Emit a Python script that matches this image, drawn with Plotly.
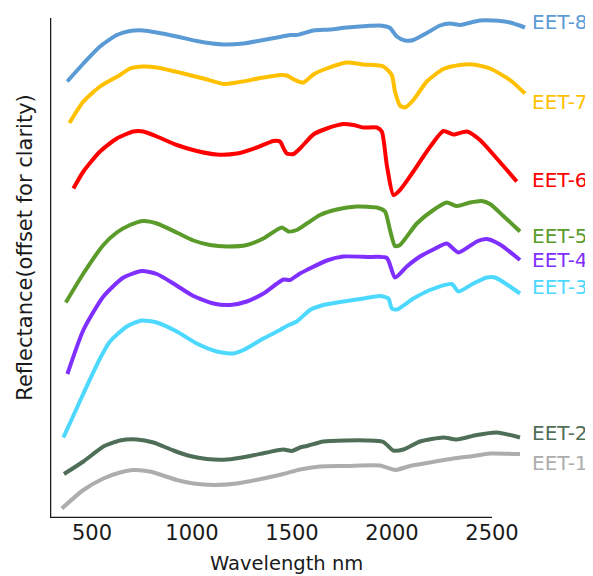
import plotly.graph_objects as go

# Wavelength (nm) and offset reflectance (arbitrary units)
wl_8 = [376, 457, 540, 624, 690, 757, 824, 924, 1024, 1157, 1257, 1357, 1440, 1490, 1524, 1607, 1690, 1774, 1874, 1940, 1990, 2024, 2065, 2107, 2174, 2240, 2290, 2340, 2374, 2440, 2507, 2590, 2665]
r_8 = [87.3, 90.9, 94.3, 96.6, 97.4, 97.5, 97.1, 96.3, 95.4, 94.7, 94.9, 95.6, 96.2, 96.6, 96.6, 97.5, 97.7, 98.1, 98.4, 98.5, 98.0, 96.3, 95.5, 95.6, 97.0, 98.5, 98.9, 98.6, 98.9, 99.5, 99.5, 99.1, 98.1]

wl_7 = [387, 457, 540, 640, 690, 757, 824, 957, 1057, 1157, 1224, 1357, 1440, 1474, 1515, 1557, 1607, 1674, 1774, 1857, 1957, 1999, 2015, 2040, 2065, 2107, 2174, 2257, 2340, 2407, 2490, 2590, 2665]
r_7 = [79.0, 83.3, 86.3, 88.6, 89.9, 90.3, 90.1, 88.9, 87.9, 86.8, 87.1, 88.1, 88.6, 88.5, 87.6, 87.1, 88.7, 89.9, 91.1, 90.7, 90.3, 88.6, 85.3, 82.5, 82.1, 83.6, 87.3, 89.8, 90.6, 90.7, 89.9, 87.6, 84.9]

wl_6 = [407, 457, 540, 624, 707, 757, 824, 924, 1024, 1124, 1224, 1324, 1407, 1440, 1457, 1474, 1507, 1540, 1607, 1674, 1757, 1807, 1857, 1924, 1949, 1974, 2007, 2040, 2107, 2174, 2257, 2307, 2374, 2440, 2524, 2624]
r_6 = [65.9, 69.3, 73.3, 75.9, 77.3, 77.3, 76.3, 74.6, 73.4, 72.7, 72.9, 74.1, 75.4, 75.3, 74.0, 72.9, 72.8, 73.9, 76.7, 77.9, 78.8, 78.6, 78.1, 78.1, 77.3, 70.6, 64.6, 65.6, 69.3, 73.3, 77.4, 76.7, 77.3, 75.6, 71.9, 67.3]

wl_5 = [369, 457, 557, 624, 690, 757, 824, 924, 1007, 1090, 1174, 1274, 1357, 1449, 1482, 1524, 1574, 1640, 1724, 1824, 1924, 1965, 1990, 2015, 2040, 2124, 2207, 2274, 2324, 2390, 2449, 2490, 2557, 2640]
r_5 = [43.1, 48.9, 54.6, 57.1, 58.6, 59.4, 58.9, 57.1, 55.5, 54.6, 54.3, 54.6, 55.9, 58.1, 57.3, 57.6, 58.9, 60.6, 61.7, 62.3, 62.1, 61.3, 57.6, 54.4, 54.6, 58.9, 61.6, 63.1, 62.4, 63.1, 63.4, 62.8, 60.4, 57.3]

wl_4 = [377, 457, 557, 657, 749, 824, 907, 1007, 1107, 1190, 1274, 1357, 1457, 1490, 1540, 1574, 1674, 1757, 1874, 1974, 2015, 2074, 2140, 2207, 2274, 2332, 2424, 2474, 2540, 2640]
r_4 = [28.8, 37.6, 44.3, 48.1, 49.4, 48.8, 46.9, 44.4, 42.9, 42.6, 43.3, 44.9, 47.7, 47.6, 48.9, 49.6, 51.5, 52.3, 52.2, 52.0, 48.1, 50.3, 52.3, 53.7, 54.9, 53.1, 55.3, 55.8, 54.7, 51.6]

wl_3 = [357, 457, 540, 590, 674, 749, 824, 924, 1024, 1124, 1207, 1257, 1357, 1440, 1474, 1490, 1524, 1590, 1657, 1774, 1857, 1940, 1982, 1999, 2024, 2107, 2190, 2299, 2332, 2407, 2474, 2515, 2640]
r_3 = [16.1, 24.9, 31.9, 35.3, 38.3, 39.5, 39.1, 37.3, 34.9, 33.3, 32.9, 33.6, 35.9, 37.6, 38.4, 38.7, 39.3, 41.6, 42.6, 43.4, 43.9, 44.4, 43.9, 41.9, 41.7, 43.9, 45.6, 46.8, 45.3, 46.9, 48.1, 48.1, 44.9]

wl_2 = [360, 457, 557, 640, 724, 807, 907, 990, 1074, 1174, 1290, 1374, 1457, 1499, 1540, 1574, 1657, 1774, 1874, 1957, 2007, 2057, 2140, 2257, 2324, 2424, 2524, 2640]
r_2 = [8.8, 11.3, 14.3, 15.5, 15.7, 15.1, 13.5, 12.4, 11.8, 11.7, 12.4, 13.1, 13.7, 13.4, 14.1, 14.4, 15.3, 15.5, 15.5, 15.2, 13.5, 13.7, 15.3, 16.1, 15.7, 16.6, 17.1, 16.1]

wl_1 = [349, 457, 557, 640, 707, 790, 924, 1007, 1107, 1224, 1357, 1457, 1540, 1640, 1774, 1940, 2015, 2090, 2190, 2307, 2407, 2490, 2640]
r_1 = [1.9, 5.6, 7.9, 9.1, 9.6, 9.3, 7.6, 6.9, 6.6, 6.9, 7.9, 8.8, 9.7, 10.3, 10.4, 10.5, 9.6, 10.4, 11.1, 11.9, 12.4, 12.9, 12.8]

names = ["EET-8", "EET-7", "EET-6", "EET-5", "EET-4", "EET-3", "EET-2", "EET-1"]
label_y = [99.3, 83.3, 67.6, 56.4, 51.6, 46.3, 17.1, 11.1]
tick_vals = [500, 1000, 1500, 2000, 2500]
tick_text = ["500", "1000", "1500", "2000", "2500"]

series = [(wl_8, r_8), (wl_7, r_7), (wl_6, r_6), (wl_5, r_5),
          (wl_4, r_4), (wl_3, r_3), (wl_2, r_2), (wl_1, r_1)]
colors = ["#5B9BD5", "#FFC000", "#FF0000", "#5A9B2A",
          "#7F2FFF", "#4DD8FF", "#4E6E58", "#ADADAD"]

FONT = "DejaVu Sans"
fig = go.Figure()
for (wl, r), name, c in zip(series, names, colors):
    fig.add_trace(go.Scatter(x=wl, y=r, mode="lines", name=name,
                             line=dict(color=c, width=4, shape="spline", smoothing=0.6)))

for name, yv, c in zip(names, label_y, colors):
    fig.add_annotation(x=2688, y=yv, xref="x", yref="y", text=name, showarrow=False,
                       xanchor="left", yanchor="middle",
                       font=dict(family=FONT, size=20, color=c))

# axis lines
fig.add_shape(type="line", x0=290, x1=2500, y0=0, y1=0, xref="x", yref="y",
              line=dict(color="#1a1a1a", width=2.5))
fig.add_shape(type="line", x0=290, x1=290, y0=0, y1=100, xref="x", yref="y",
              line=dict(color="#1a1a1a", width=2.5))

fig.add_annotation(x=1470, y=-0.09, xref="x", yref="paper", text="Wavelength nm",
                   showarrow=False, xanchor="center", yanchor="middle",
                   font=dict(family=FONT, size=19.5, color="#1a1a1a"))
fig.add_annotation(x=-0.052, y=0.542, xref="paper", yref="paper",
                   text="Reflectance(offset for clarity)", textangle=-90,
                   showarrow=False, xanchor="center", yanchor="middle",
                   font=dict(family=FONT, size=21, color="#1a1a1a"))

fig.update_layout(
    width=585, height=568,
    margin=dict(l=42, r=57, t=10, b=58),
    plot_bgcolor="white", paper_bgcolor="white",
    showlegend=False,
    xaxis=dict(range=[290, 2720], showgrid=False, zeroline=False, showline=False,
               tickmode="array", tickvals=tick_vals, ticktext=tick_text, ticks="",
               tickfont=dict(family=FONT, size=21, color="#1a1a1a")),
    yaxis=dict(range=[0, 100], showgrid=False, zeroline=False, showline=False,
               showticklabels=False, ticks=""),
)
fig.write_html("out.html")
